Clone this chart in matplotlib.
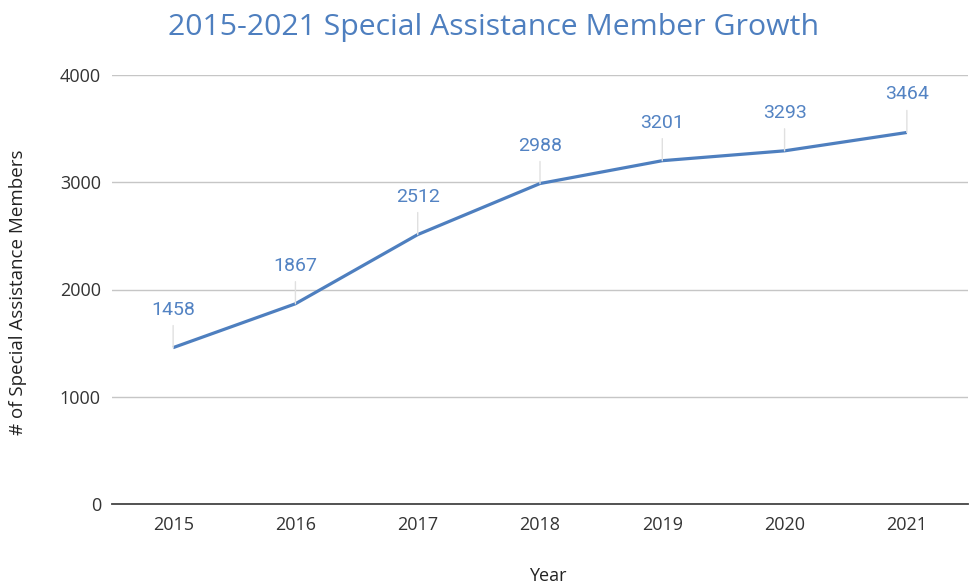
import matplotlib.pyplot as plt

# 数据
years = ["2015", "2016", "2017", "2018", "2019", "2020", "2021"]
members = [1458, 1867, 2512, 2988, 3201, 3293, 3464]
y_ticks = [0, 1000, 2000, 3000, 4000]

BLUE = "#4e7fbf"
LABEL_BLUE = "#5383c3"


def main() -> None:
    plt.rcParams["font.family"] = ["Open Sans", "DejaVu Sans"]

    fig = plt.figure(figsize=(9.69, 5.86), dpi=100)
    ax = fig.add_axes([112 / 969, 82 / 586, 856 / 969, 429 / 586])

    x = list(range(len(years)))
    ax.plot(x, members, color=BLUE, linewidth=2.3, solid_capstyle="butt", zorder=3)

    # 数据标签 + 引线
    for xi, v in zip(x, members):
        ax.annotate(
            str(v),
            xy=(xi, v),
            xytext=(0, 38),
            textcoords="offset pixels",
            ha="center",
            va="center",
            fontsize=14,
            family="Roboto",
            color=LABEL_BLUE,
            arrowprops=dict(arrowstyle="-", color="#e0e0e0", lw=1,
                            shrinkA=3, shrinkB=0),
            zorder=4,
        )

    ax.set_xlim(-0.5, len(years) - 0.5)
    ax.set_ylim(0, 4000)
    ax.set_xticks(x)
    ax.set_xticklabels(years)
    ax.set_yticks(y_ticks)
    ax.tick_params(axis="both", length=0, labelsize=13, colors="#333333")
    ax.tick_params(axis="x", pad=9)
    ax.tick_params(axis="y", pad=8)

    ax.grid(axis="y", color="#c6c6c6", linewidth=1)
    ax.set_axisbelow(True)
    for side in ["top", "right", "left"]:
        ax.spines[side].set_visible(False)
    ax.spines["bottom"].set_color("#444444")
    ax.spines["bottom"].set_linewidth(1.3)
    ax.spines["bottom"].set_zorder(5)

    fig.text(494 / 969, 1 - 27 / 586, "2015-2021 Special Assistance Member Growth",
             ha="center", va="center", fontsize=21.8, color=BLUE)
    fig.text(18 / 969, 1 - 292 / 586, "# of Special Assistance Members",
             ha="center", va="center", rotation=90, fontsize=13.5, color="#222222")
    fig.text(548 / 969, 1 - 576 / 586, "Year",
             ha="center", va="center", fontsize=13, color="#222222")

    fig.savefig("out.png", dpi=100)


if __name__ == "__main__":
    main()
